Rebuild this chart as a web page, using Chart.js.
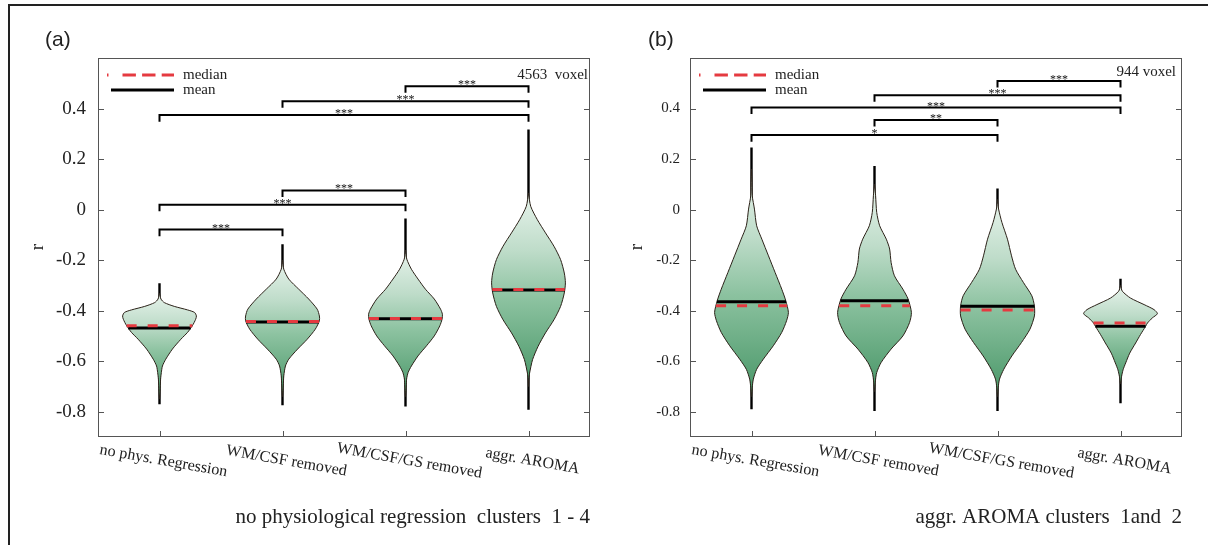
<!DOCTYPE html>
<html>
<head>
<meta charset="utf-8">
<script src="https://cdn.jsdelivr.net/npm/chart.js@4.4.0/dist/chart.umd.min.js"></script>
<style>
  html, body { margin: 0; padding: 0; background: #fff; }
  #wrap { position: relative; width: 1208px; height: 545px; overflow: hidden; }
  #frame { position: absolute; left: 8px; top: 4px; width: 1220px; height: 560px;
           border-top: 2px solid #222; border-left: 2px solid #222; }
  canvas { position: absolute; top: 0; }
</style>
</head>
<body>
<div id="wrap">
  <div id="frame"></div>
  <canvas id="chartA" width="600" height="545" style="left:0;width:600px;height:545px"></canvas>
  <canvas id="chartB" width="608" height="545" style="left:600px;width:608px;height:545px"></canvas>
</div>
<script>
"use strict";

const categories = ["no phys. Regression", "WM/CSF removed", "WM/CSF/GS removed", "aggr. AROMA"];
const yTicks = [-0.8, -0.6, -0.4, -0.2, 0, 0.2, 0.4];
const yTickLabels = ["-0.8", "-0.6", "-0.4", "-0.2", "0", "0.2", "0.4"];

// (a) no physiological regression clusters 1 - 4
const aMean = [-0.469, -0.445, -0.432, -0.318];
const aMedian = [-0.460, -0.443, -0.431, -0.316];
const aMin = [-0.770, -0.774, -0.779, -0.792];
const aMax = [-0.291, -0.137, -0.035, 0.317];

// violin outlines: r levels (top to bottom) and relative density (1 = widest)
const aNoPhysR = [-0.33, -0.354, -0.368, -0.383, -0.397, -0.407, -0.421, -0.434, -0.46, -0.486, -0.513, -0.552, -0.592, -0.619, -0.645, -0.671, -0.72, -0.75];
const aNoPhysD = [0, 0.04, 0.13, 0.4, 0.76, 0.95, 1, 0.98, 0.89, 0.76, 0.58, 0.35, 0.17, 0.08, 0.05, 0.03, 0.015, 0];
const aWmCsfR = [-0.2, -0.236, -0.275, -0.315, -0.354, -0.394, -0.421, -0.44, -0.473, -0.513, -0.552, -0.592, -0.619, -0.658, -0.698, -0.74];
const aWmCsfD = [0, 0.035, 0.17, 0.44, 0.71, 0.94, 1, 1, 0.89, 0.67, 0.41, 0.17, 0.08, 0.035, 0.02, 0];
const aWmCsfGsR = [-0.16, -0.196, -0.236, -0.275, -0.315, -0.354, -0.394, -0.414, -0.434, -0.46, -0.5, -0.539, -0.579, -0.619, -0.645, -0.671, -0.698, -0.74];
const aWmCsfGsD = [0, 0.035, 0.16, 0.34, 0.54, 0.78, 0.95, 1, 0.99, 0.93, 0.78, 0.57, 0.34, 0.16, 0.07, 0.03, 0.02, 0];
const aAromaR = [0.066, 0.013, -0.04, -0.092, -0.145, -0.198, -0.251, -0.29, -0.33, -0.383, -0.436, -0.488, -0.541, -0.594, -0.647, -0.67, -0.7];
const aAromaD = [0, 0.06, 0.24, 0.46, 0.69, 0.87, 0.97, 1, 0.97, 0.87, 0.69, 0.46, 0.26, 0.11, 0.03, 0.01, 0];

const aBrFrom = [2, 1, 0, 1, 0, 0];
const aBrTo = [3, 3, 3, 2, 2, 1];
const aBrLevel = [0.488, 0.429, 0.374, 0.076, 0.019, -0.079];
const aBrStars = ["***", "***", "***", "***", "***", "***"];

// (b) aggr. AROMA clusters 1 and 2
const bMean = [-0.365, -0.361, -0.383, -0.462];
const bMedian = [-0.381, -0.381, -0.397, -0.449];
const bMin = [-0.790, -0.797, -0.797, -0.766];
const bMax = [0.246, 0.173, 0.084, -0.274];

const bNoPhysR = [0.16, 0.121, 0.055, 0.002, -0.064, -0.117, -0.183, -0.249, -0.315, -0.361, -0.407, -0.44, -0.486, -0.539, -0.592, -0.632, -0.671, -0.704, -0.74];
const bNoPhysD = [0, 0.01, 0.02, 0.08, 0.14, 0.28, 0.46, 0.64, 0.82, 0.93, 1, 0.95, 0.82, 0.59, 0.32, 0.14, 0.05, 0.02, 0];
const bWmCsfR = [0.1, 0.055, -0.011, -0.064, -0.117, -0.156, -0.209, -0.262, -0.315, -0.354, -0.407, -0.447, -0.5, -0.552, -0.605, -0.645, -0.684, -0.72];
const bWmCsfD = [0, 0.03, 0.06, 0.14, 0.32, 0.41, 0.45, 0.54, 0.77, 0.91, 1, 0.95, 0.77, 0.45, 0.18, 0.06, 0.02, 0];
const bWmCsfGsR = [0.04, 0.002, -0.051, -0.117, -0.183, -0.236, -0.288, -0.341, -0.381, -0.421, -0.473, -0.526, -0.579, -0.632, -0.671, -0.704, -0.74];
const bWmCsfGsD = [0, 0.03, 0.12, 0.27, 0.38, 0.49, 0.7, 0.93, 1, 1, 0.88, 0.65, 0.39, 0.17, 0.055, 0.02, 0];
const bAromaR = [-0.3, -0.323, -0.35, -0.376, -0.396, -0.412, -0.429, -0.449, -0.462, -0.495, -0.528, -0.568, -0.607, -0.634, -0.66, -0.69];
const bAromaD = [0, 0.05, 0.27, 0.64, 0.91, 1, 0.86, 0.73, 0.68, 0.54, 0.41, 0.25, 0.14, 0.07, 0.03, 0];

const bBrFrom = [2, 1, 0, 1, 0];
const bBrTo = [3, 3, 3, 2, 2];
const bBrLevel = [0.509, 0.453, 0.404, 0.355, 0.295];
const bBrStars = ["***", "***", "***", "**", "*"];

const SERIF = "'Liberation Serif', 'Times New Roman', serif";
const SANS = "'Liberation Sans', Arial, sans-serif";
const RED = "#e53a40";
const HALF = 0.3;      // widest violin half width, in category units
const BR_DROP = 0.026; // bracket end ticks

function widthAt(rs, dens, v) {
  for (let k = 0; k < rs.length - 1; k++) {
    if ((rs[k] - v) * (rs[k + 1] - v) <= 0) {
      const t = (v - rs[k]) / (rs[k + 1] - rs[k]);
      return (dens[k] + t * (dens[k + 1] - dens[k])) * HALF;
    }
  }
  return 0;
}

function buildDatasets(p) {
  const sets = [];
  p.profiles.forEach(([rs, dens], i) => {
    sets.push({
      kind: "whisker",
      data: [{ x: i, y: p.max[i] }, { x: i, y: p.min[i] }],
      borderColor: "#000", borderWidth: 2.4, order: 5,
    });
    const right = rs.map((r, k) => ({ x: i + dens[k] * HALF, y: r }));
    const left = rs.slice(0, -1).map((r, k) => ({ x: i - dens[k] * HALF, y: r })).reverse();
    sets.push({
      kind: "violin", top: rs[0], bottom: rs[rs.length - 1],
      data: right.concat(left),
      borderColor: "#2b2118", borderWidth: 1, tension: 0.25, order: 4,
    });
    const wm = widthAt(rs, dens, p.mean[i]);
    sets.push({
      kind: "mean",
      data: [{ x: i - wm, y: p.mean[i] }, { x: i + wm, y: p.mean[i] }],
      borderColor: "#000", borderWidth: 3, order: 3,
    });
    const wd = widthAt(rs, dens, p.median[i]);
    sets.push({
      kind: "median",
      data: [{ x: i - wd, y: p.median[i] }, { x: i + wd, y: p.median[i] }],
      borderColor: RED, borderWidth: 3, borderDash: [10, 11], order: 2,
    });
  });
  p.brFrom.forEach((f, k) => {
    const t = p.brTo[k], lv = p.brLevel[k];
    sets.push({
      kind: "bracket",
      data: [{ x: f, y: lv - BR_DROP }, { x: f, y: lv }, { x: t, y: lv }, { x: t, y: lv - BR_DROP }],
      borderColor: "#000", borderWidth: 2, borderJoinStyle: "miter", order: 1,
    });
  });
  return sets;
}

const violinFill = {
  id: "violinFill",
  beforeDatasetDraw(chart, args) {
    const ds = chart.data.datasets[args.index];
    if (ds.kind !== "violin") return;
    const { ctx, chartArea, scales } = chart;
    const line = args.meta.dataset;
    const y0 = scales.y.getPixelForValue(ds.top);
    const y1 = scales.y.getPixelForValue(ds.bottom);
    const g = ctx.createLinearGradient(0, y0, 0, y1);
    g.addColorStop(0, "#e8f3ec");
    g.addColorStop(0.3, "#bedcc9");
    g.addColorStop(0.55, "#8cc2a0");
    g.addColorStop(1, "#489667");
    ctx.save();
    ctx.beginPath();
    if (line && typeof line.path === "function") {
      line.updateControlPoints(chartArea, "x");
      line.path(ctx);
    } else {
      args.meta.data.forEach((pt, k) => (k ? ctx.lineTo(pt.x, pt.y) : ctx.moveTo(pt.x, pt.y)));
    }
    ctx.closePath();
    ctx.fillStyle = g;
    ctx.fill();
    ctx.restore();
  },
};

const decor = {
  id: "decor",
  afterDraw(chart) {
    const p = chart.options.plugins.decor.panel;
    const { ctx, chartArea: a, scales: { x, y } } = chart;
    ctx.save();

    // plot frame and inward ticks
    ctx.strokeStyle = "#555";
    ctx.lineWidth = 1;
    ctx.strokeRect(a.left + 0.5, a.top + 0.5, a.right - a.left - 1, a.bottom - a.top - 1);
    ctx.beginPath();
    yTicks.forEach((v) => {
      const py = Math.round(y.getPixelForValue(v)) + 0.5;
      ctx.moveTo(a.left, py); ctx.lineTo(a.left + 6, py);
      ctx.moveTo(a.right - 6, py); ctx.lineTo(a.right, py);
    });
    categories.forEach((c, i) => {
      const px = Math.round(x.getPixelForValue(i)) + 0.5;
      ctx.moveTo(px, a.bottom); ctx.lineTo(px, a.bottom - 6);
    });
    ctx.stroke();

    // tilted category labels
    ctx.fillStyle = "#222";
    ctx.font = "16px " + SERIF;
    ctx.textAlign = "center";
    ctx.textBaseline = "middle";
    categories.forEach((c, i) => {
      ctx.save();
      ctx.translate(x.getPixelForValue(i) + 4, 461);
      ctx.rotate((10 * Math.PI) / 180);
      ctx.fillText(c, 0, 0);
      ctx.restore();
    });

    // significance stars
    ctx.font = "12px " + SERIF;
    ctx.textBaseline = "alphabetic";
    ctx.fillStyle = "#111";
    p.brFrom.forEach((f, k) => {
      const cx = x.getPixelForValue((f + p.brTo[k]) / 2);
      const cy = y.getPixelForValue(p.brLevel[k]);
      ctx.fillText(p.brStars[k], cx, cy + 2);
    });

    // legend
    ctx.lineWidth = 3;
    ctx.strokeStyle = RED;
    ctx.setLineDash([1.5, 14, 13.4, 6.2, 13.4, 6.2, 13.4, 100]);
    ctx.beginPath();
    ctx.moveTo(a.left + 9, 75); ctx.lineTo(a.left + 76, 75);
    ctx.stroke();
    ctx.setLineDash([]);
    ctx.strokeStyle = "#000";
    ctx.beginPath();
    ctx.moveTo(a.left + 13, 90); ctx.lineTo(a.left + 76, 90);
    ctx.stroke();
    ctx.fillStyle = "#222";
    ctx.font = "15px " + SERIF;
    ctx.textAlign = "left";
    ctx.textBaseline = "middle";
    ctx.fillText("median", a.left + 85, 75);
    ctx.fillText("mean", a.left + 85, 90);

    ctx.textAlign = "right";
    ctx.fillText(p.voxel, a.right - p.voxelInset, p.voxelY);

    // subtitle
    ctx.font = "21px " + SERIF;
    ctx.fillText(p.subtitle, a.right, 517);

    // panel letter
    ctx.font = "21px " + SANS;
    ctx.textAlign = "left";
    ctx.fillText(p.letter, p.letterX, 40);

    // y title
    ctx.save();
    ctx.font = "19px " + SERIF;
    ctx.textAlign = "center";
    ctx.translate(p.titleX, 247);
    ctx.rotate(-Math.PI / 2);
    ctx.fillText("r", 0, 0);
    ctx.restore();

    ctx.restore();
  },
};

function makeChart(id, p) {
  const canvas = document.getElementById(id);
  return new Chart(canvas, {
    type: "line",
    data: { datasets: buildDatasets(p) },
    plugins: [violinFill, decor],
    options: {
      responsive: false,
      animation: false,
      events: [],
      devicePixelRatio: 1,
      elements: { point: { radius: 0, hoverRadius: 0 }, line: { tension: 0, fill: false, borderCapStyle: "butt" } },
      layout: { padding: { left: 0, top: 58, right: canvas.width - p.chartRight, bottom: 545 - 437 - 30 } },
      scales: {
        x: {
          type: "linear", min: -0.5, max: 3.5,
          ticks: { display: false },
          grid: { display: false, drawTicks: false },
          border: { display: false },
          afterFit: (s) => { s.height = 30; },
        },
        y: {
          type: "linear", min: -0.9, max: 0.6,
          afterBuildTicks: (s) => { s.ticks = yTicks.map((v) => ({ value: v })); },
          afterFit: (s) => { s.width = p.chartLeft; },
          ticks: {
            padding: p.tickPad, color: "#222",
            font: { size: p.tickFont, family: SERIF },
            callback: (v, i) => yTickLabels[i],
          },
          grid: { display: false, drawTicks: false },
          border: { display: false },
        },
      },
      plugins: {
        legend: { display: false },
        tooltip: { enabled: false },
        decor: { panel: p },
      },
    },
  });
}

makeChart("chartA", {
  profiles: [[aNoPhysR, aNoPhysD], [aWmCsfR, aWmCsfD], [aWmCsfGsR, aWmCsfGsD], [aAromaR, aAromaD]],
  mean: aMean, median: aMedian, min: aMin, max: aMax,
  brFrom: aBrFrom, brTo: aBrTo, brLevel: aBrLevel, brStars: aBrStars,
  chartLeft: 98, chartRight: 590, tickFont: 19, tickPad: 12,
  letter: "(a)", letterX: 45, titleX: 38,
  voxel: "4563  voxel", voxelInset: 2, voxelY: 75,
  subtitle: "no physiological regression  clusters  1 - 4",
});

makeChart("chartB", {
  profiles: [[bNoPhysR, bNoPhysD], [bWmCsfR, bWmCsfD], [bWmCsfGsR, bWmCsfGsD], [bAromaR, bAromaD]],
  mean: bMean, median: bMedian, min: bMin, max: bMax,
  brFrom: bBrFrom, brTo: bBrTo, brLevel: bBrLevel, brStars: bBrStars,
  chartLeft: 90, chartRight: 582, tickFont: 15, tickPad: 10,
  letter: "(b)", letterX: 48, titleX: 37,
  voxel: "944 voxel", voxelInset: 6, voxelY: 72,
  subtitle: "aggr. AROMA clusters  1and  2",
});
</script>
</body>
</html>
